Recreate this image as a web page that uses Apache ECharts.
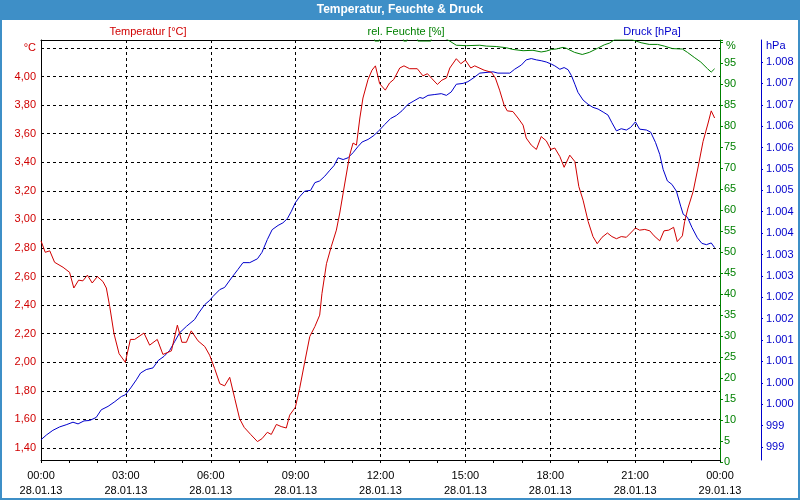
<!DOCTYPE html>
<html><head><meta charset="utf-8">
<script src="https://cdn.jsdelivr.net/npm/echarts@6/dist/echarts.min.js"></script>
<style>html,body{margin:0;padding:0;background:#fff}#c{width:800px;height:500px}</style>
</head><body><div id="c"></div>
<script>
// ---- data (time in hours since 28.01.13 00:00) ----
const tempTime = [0.00,0.15,0.31,0.48,0.78,1.01,1.16,1.33,1.48,1.64,1.81,1.99,2.19,2.31,2.43,2.58,2.76,2.98,3.16,3.31,3.64,3.84,4.11,4.31,4.61,4.82,4.98,5.14,5.31,5.55,5.79,5.96,6.14,6.32,6.49,6.67,6.85,7.02,7.18,7.41,7.65,7.81,8.00,8.14,8.32,8.49,8.67,8.79,8.99,9.14,9.32,9.50,9.68,9.85,9.93,10.09,10.26,10.44,10.56,10.74,10.91,11.03,11.15,11.27,11.38,11.56,11.70,11.82,11.97,12.17,12.32,12.47,12.68,12.83,13.03,13.30,13.50,13.66,13.82,14.01,14.17,14.33,14.45,14.68,14.84,15.00,15.19,15.33,15.66,15.92,16.06,16.21,16.37,16.48,16.68,16.86,17.04,17.15,17.33,17.51,17.68,17.86,18.02,18.16,18.34,18.49,18.69,18.87,19.01,19.16,19.34,19.51,19.66,19.83,20.02,20.18,20.34,20.51,20.69,20.84,21.01,21.16,21.34,21.52,21.67,21.87,22.02,22.19,22.36,22.49,22.67,22.75,22.87,23.05,23.22,23.40,23.58,23.69,23.81];
const tempVal = [2.85,2.77,2.78,2.70,2.665,2.63,2.52,2.575,2.57,2.61,2.555,2.60,2.565,2.52,2.39,2.20,2.06,2.00,2.16,2.16,2.205,2.12,2.16,2.055,2.08,2.26,2.14,2.14,2.22,2.15,2.11,2.05,1.955,1.85,1.835,1.895,1.745,1.605,1.545,1.495,1.445,1.465,1.51,1.495,1.565,1.55,1.54,1.63,1.685,1.815,2.00,2.18,2.25,2.33,2.48,2.69,2.81,2.925,3.045,3.255,3.45,3.535,3.52,3.71,3.85,3.98,4.045,4.075,3.95,3.905,3.955,3.98,4.06,4.075,4.055,4.055,4.005,4.02,3.985,3.945,3.975,3.99,4.06,4.125,4.09,4.115,4.06,4.075,4.045,4.03,3.99,3.905,3.80,3.76,3.755,3.71,3.66,3.57,3.52,3.49,3.58,3.55,3.49,3.50,3.44,3.365,3.45,3.405,3.23,3.135,2.985,2.88,2.83,2.875,2.905,2.88,2.865,2.88,2.875,2.905,2.94,2.925,2.93,2.92,2.885,2.85,2.92,2.925,2.945,2.845,2.885,2.985,3.08,3.195,3.36,3.545,3.675,3.76,3.71];

const humTime = [0,11.75,11.8,11.95,12.0,12.78,12.82,12.93,12.98,13.28,13.32,13.78,13.83,14.0,14.35,14.68,15.04,15.51,15.74,16.09,16.45,16.68,17.04,17.39,17.68,17.86,18.04,18.21,18.45,18.56,18.86,19.13,19.38,19.68,19.91,20.09,20.27,20.9,21.03,21.21,21.5,21.79,22.03,22.32,22.67,22.85,23.09,23.32,23.56,23.69,23.81];
const humVal  = [102,102,100.3,100.3,102,102,100.3,100.3,102,102,100.3,100.3,102,102,100.7,99.3,99.2,99.3,99.1,99.0,98.7,98.3,98.0,98.1,97.7,97.9,98.3,98.4,98.8,98.6,97.6,97.1,97.6,98.6,99.4,99.8,100.6,100.6,100.3,99.9,99.5,99.5,99.1,98.5,98.4,97.6,96.4,95.3,93.7,92.9,93.7];

const presTime = [0.00,0.19,0.42,0.66,0.89,1.13,1.31,1.52,1.72,1.95,2.13,2.37,2.61,2.84,2.98,3.17,3.37,3.52,3.72,3.96,4.14,4.35,4.55,4.73,4.90,5.14,5.43,5.57,5.79,5.95,6.08,6.32,6.49,6.73,6.96,7.14,7.38,7.65,7.81,8.00,8.17,8.38,8.55,8.71,8.85,8.99,9.14,9.32,9.53,9.68,9.85,10.03,10.21,10.36,10.50,10.68,10.85,11.03,11.20,11.35,11.56,11.74,11.91,12.15,12.36,12.56,12.76,12.97,13.18,13.39,13.50,13.68,13.92,14.15,14.33,14.50,14.68,14.92,15.09,15.27,15.51,15.80,15.98,16.15,16.57,16.74,16.98,17.15,17.33,17.51,17.68,17.86,18.04,18.16,18.34,18.49,18.63,18.75,18.87,18.98,19.16,19.34,19.51,19.69,19.87,20.04,20.18,20.34,20.51,20.69,20.84,21.01,21.16,21.40,21.55,21.72,21.87,21.99,22.14,22.30,22.46,22.61,22.70,22.85,23.01,23.20,23.36,23.52,23.69,23.81];
const presVal  = [999.17,999.28,999.39,999.47,999.52,999.58,999.54,999.61,999.62,999.69,999.87,999.95,1000.06,1000.18,1000.22,1000.38,1000.57,1000.73,1000.81,1000.85,1001.02,1001.12,1001.26,1001.47,1001.67,1001.82,1001.98,1002.13,1002.33,1002.42,1002.52,1002.68,1002.73,1002.95,1003.15,1003.31,1003.31,1003.40,1003.55,1003.85,1004.08,1004.18,1004.24,1004.34,1004.51,1004.71,1004.85,1004.98,1005.00,1005.18,1005.22,1005.33,1005.47,1005.58,1005.76,1005.72,1005.76,1005.88,1006.02,1006.13,1006.19,1006.27,1006.37,1006.54,1006.68,1006.75,1006.86,1007.01,1007.09,1007.17,1007.15,1007.22,1007.24,1007.26,1007.22,1007.30,1007.48,1007.50,1007.54,1007.62,1007.74,1007.76,1007.77,1007.74,1007.74,1007.83,1007.93,1008.05,1008.08,1008.05,1008.03,1008.00,1007.95,1007.91,1007.83,1007.87,1007.82,1007.68,1007.48,1007.29,1007.11,1007.01,1006.94,1006.90,1006.83,1006.76,1006.58,1006.39,1006.44,1006.41,1006.47,1006.60,1006.43,1006.41,1006.36,1006.12,1005.84,1005.49,1005.22,1005.14,1004.98,1004.63,1004.44,1004.37,1004.13,1003.89,1003.76,1003.73,1003.77,1003.66];

const titleText = 'Temperatur, Feuchte & Druck';
const tempName = 'Temperatur [°C]';
const humName = 'rel. Feuchte [%]';
const presName = 'Druck [hPa]';

// ---- chart ----
const FONT = '"Liberation Sans", Arial, sans-serif';
const RED = '#d00000', GREEN = '#008000', BLUE = '#0000cc', BAR = '#3e8fc7';
const pairs = (t, v) => t.map((x, i) => [x, v[i]]);
const xFmt = v => {
  const h = Math.round(v) % 24;
  const d = v >= 24 ? '29.01.13' : '28.01.13';
  return (h < 10 ? '0' : '') + h + ':00\n' + d;
};
const pFmt = v => {
  const n = Math.floor(v + 1e-6);
  return n >= 1000 ? Math.floor(n / 1000) + '.' + String(n % 1000).padStart(3, '0') : String(n);
};
const dash = [3, 3];
const txt = (x, y, text, color, align, font) => ({
  type: 'text', x: x, y: y, z: 10,
  style: { text: text, fill: color, font: font || ('11px ' + FONT),
           textAlign: align, align: align, textVerticalAlign: 'middle', verticalAlign: 'middle' }
});
const lineOnly = (grid, pos, color, offset) => ({
  gridIndex: grid, type: 'value', min: 0, max: 1, position: pos, offset: offset || 0, z: 1,
  axisLine: { show: true, onZero: false, lineStyle: { color: color, width: 1 } },
  axisTick: { show: false }, axisLabel: { show: false }, splitLine: { show: false }
});
const hiddenX = grid => ({ gridIndex: grid, type: 'value', min: 0, max: 24, show: false, axisLine: { onZero: false } });

const chart = echarts.init(document.getElementById('c'), null, { renderer: 'canvas' });
chart.setOption({
  animation: false,
  backgroundColor: '#ffffff',
  graphic: [
    { type: 'rect', z: 1, shape: { x: 0, y: 0, width: 800, height: 20 }, style: { fill: BAR } },
    { type: 'rect', z: 1, shape: { x: 1, y: 1, width: 798, height: 498 }, style: { fill: 'none', stroke: BAR, lineWidth: 2 } },
    txt(400, 10, titleText, '#ffffff', 'center', 'bold 12px ' + FONT),
    txt(148, 32, tempName, RED, 'center'),
    txt(406, 32, humName, GREEN, 'center'),
    txt(652, 32, presName, BLUE, 'center'),
    txt(726, 46, '%', GREEN, 'left'),
    txt(766, 46, 'hPa', BLUE, 'left')
  ],
  grid: [
    { left: 41, right: 80, top: 40, bottom: 40 },
    { left: 41, right: 80, top: 48, bottom: 52 },
    { left: 41, right: 80, top: 62, bottom: 53 },
    { left: 41, right: 80, top: 40, bottom: 38 }
  ],
  xAxis: [
    { gridIndex: 0, type: 'value', min: 0, max: 24, interval: 3, position: 'bottom', z: 0,
      axisLine: { show: true, onZero: false, lineStyle: { color: '#000', width: 1 } },
      axisTick: { show: true, length: 3, lineStyle: { color: '#000' } },
      minorTick: { show: true, splitNumber: 3, length: 3, lineStyle: { color: '#000' } },
      splitLine: { show: true, lineStyle: { color: '#000', type: dash, width: 1 } },
      axisLabel: { formatter: xFmt, color: '#000', fontSize: 11, fontFamily: FONT, lineHeight: 15, margin: 8,
                   showMinLabel: true, showMaxLabel: true, hideOverlap: false } },
    { gridIndex: 0, type: 'value', min: 0, max: 24, position: 'top', z: 0,
      axisLine: { show: true, onZero: false, lineStyle: { color: '#000', width: 1 } },
      axisTick: { show: false }, axisLabel: { show: false }, splitLine: { show: false } },
    hiddenX(1), hiddenX(2), hiddenX(3)
  ],
  yAxis: [
    lineOnly(0, 'left', '#000'),
    lineOnly(0, 'right', GREEN),
    lineOnly(0, 'right', BLUE, 41),
    { gridIndex: 1, type: 'value', min: 1.4, max: 4.2, interval: 0.2, position: 'left', z: 0,
      axisLine: { show: false, onZero: false }, axisTick: { show: false },
      axisLabel: { color: RED, fontSize: 11, fontFamily: FONT, margin: 5,
                   formatter: v => (v > 4.19 ? '°C' : v.toFixed(2).replace('.', ',')) },
      splitLine: { show: true, lineStyle: { color: '#000', type: dash, width: 1 } } },
    { gridIndex: 2, type: 'value', min: 999, max: 1008, interval: 0.5, position: 'right', offset: 41, z: 1,
      axisLine: { show: false, onZero: false },
      axisTick: { show: true, length: 2, lineStyle: { color: BLUE } },
      axisLabel: { color: BLUE, fontSize: 11, fontFamily: FONT, margin: 5, formatter: pFmt },
      splitLine: { show: false } },
    { gridIndex: 3, type: 'value', min: 0, max: 100.55, interval: 5, position: 'right', z: 1,
      axisLine: { show: false, onZero: false },
      axisTick: { show: true, length: 3, lineStyle: { color: GREEN } },
      axisLabel: { color: GREEN, fontSize: 11, fontFamily: FONT, margin: 4,
                   formatter: v => (v >= 100 ? '' : String(v)) },
      splitLine: { show: false } }
  ],
  series: [
    { type: 'line', xAxisIndex: 4, yAxisIndex: 5, data: pairs(humTime, humVal), symbol: 'none',
      clip: true, z: 2, lineStyle: { color: GREEN, width: 1 } },
    { type: 'line', xAxisIndex: 3, yAxisIndex: 4, data: pairs(presTime, presVal), symbol: 'none',
      clip: false, z: 2, lineStyle: { color: BLUE, width: 1 } },
    { type: 'line', xAxisIndex: 2, yAxisIndex: 3, data: pairs(tempTime, tempVal), symbol: 'none',
      clip: false, z: 2, lineStyle: { color: RED, width: 1 } }
  ]
});
</script></body></html>
